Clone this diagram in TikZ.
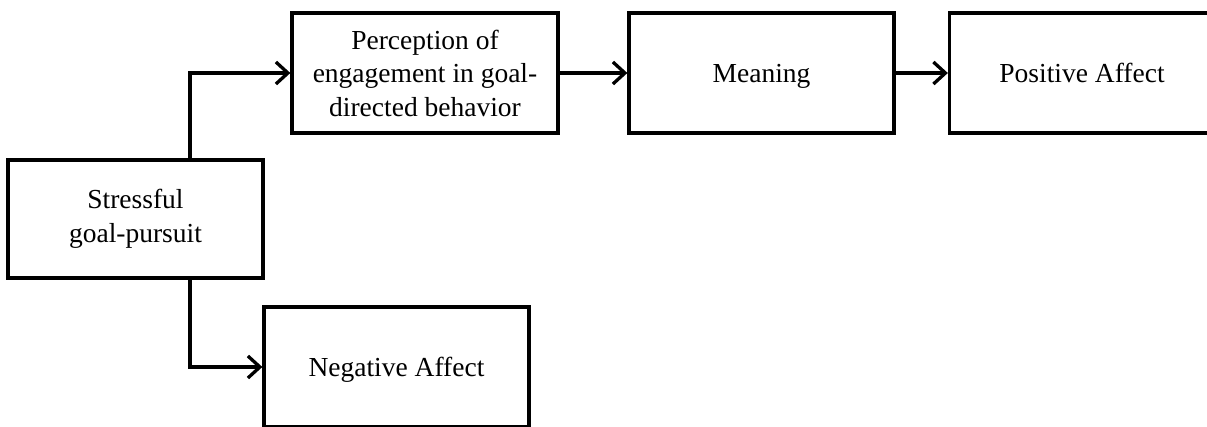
\documentclass[tikz,border=0pt]{standalone}
\usepackage{fontspec}
\setmainfont{Liberation Serif}
\usetikzlibrary{arrows.meta}
\begin{document}
\begin{tikzpicture}[x=1pt,y=-1pt,
  box/.style={draw,line width=3.3pt,minimum width=265pt,minimum height=120pt,align=center,inner sep=0pt,
    font=\fontsize{27.5}{33.5}\selectfont},
  oneline/.style={text height=19pt,text depth=0pt},
  conn/.style={line width=3.3pt,-{Straight Barb[length=12pt,width=22pt,line width=3.3pt]}}]
\useasboundingbox (0,0) rectangle (1207,426);
\node[box,minimum width=255pt,minimum height=118pt] (stress) at (135.5,219) {Stressful\\goal-pursuit};
\node[box,minimum width=266pt] (perc) at (425,73) {Perception of\\engagement in goal-\\directed behavior};
\node[box,oneline] (mean) at (761.5,73) {Meaning};
\node[box,oneline] (pos) at (1082,73) {Positive Affect};
\node[box,oneline] (neg) at (396.5,367) {Negative Affect};
\draw[conn] ([xshift=54.5pt]stress.north) |- (perc.west);
\draw[conn] ([xshift=54.5pt]stress.south) |- (neg.west);
\draw[conn] (perc.east) -- (mean.west);
\draw[conn] (mean.east) -- (pos.west);
\end{tikzpicture}
\end{document}
